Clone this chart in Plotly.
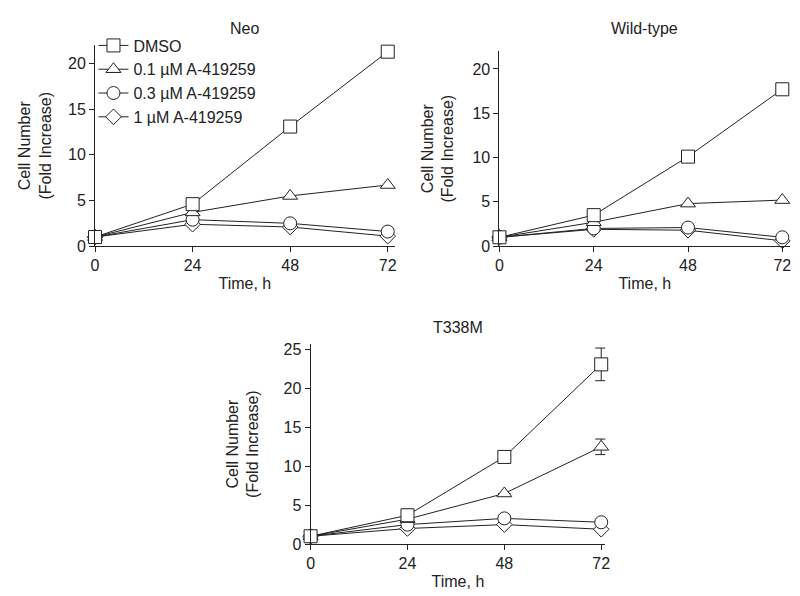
import plotly.graph_objects as go

hours = [0, 24, 48, 72]
series_names = ["DMSO", "0.1 µM A-419259", "0.3 µM A-419259", "1 µM A-419259"]
symbols = ["square", "triangle-up", "circle", "diamond"]

neo_dmso = [1.0, 4.6, 13.1, 21.3]
neo_01 = [1.0, 3.7, 5.5, 6.7]
neo_03 = [1.0, 2.9, 2.5, 1.6]
neo_1 = [1.0, 2.4, 2.1, 1.1]

wt_dmso = [1.0, 3.5, 10.1, 17.7]
wt_01 = [1.0, 2.7, 4.8, 5.2]
wt_03 = [1.0, 2.0, 2.1, 1.0]
wt_1 = [1.0, 1.9, 1.8, 0.6]

t338m_dmso = [1.0, 3.7, 11.2, 23.1]
t338m_01 = [1.0, 3.2, 6.5, 12.5]
t338m_03 = [1.0, 2.5, 3.3, 2.8]
t338m_1 = [1.0, 2.0, 2.5, 1.9]
t338m_dmso_err = [0, 0, 0, 2.1]
t338m_01_err = [0, 0, 0, 1.0]

panel_titles = ["Neo", "Wild-type", "T338M"]
x_title = "Time, h"
y_title = "Cell Number<br>(Fold Increase)"

W, H = 800, 596
INK = "#222222"
FONT = dict(family="Liberation Sans, Arial, sans-serif", size=16, color=INK)

fig = go.Figure()

panels = [
    dict(data=[neo_dmso, neo_01, neo_03, neo_1], errs=[None] * 4,
         xd=(84, 387), yd=(35, 240), xr=73.7, yr=22.0, ax="", legend=True,
         title_y=18, standoff=12),
    dict(data=[wt_dmso, wt_01, wt_03, wt_1], errs=[None] * 4,
         xd=(493, 787), yd=(41, 240), xr=74.0, yr=22.0, ax="2", legend=False,
         title_y=18, standoff=14),
    dict(data=[t338m_dmso, t338m_01, t338m_03, t338m_1],
         errs=[t338m_dmso_err, t338m_01_err, None, None],
         xd=(302, 600), yd=(340, 544), xr=73.0, yr=25.7, ax="3", legend=False,
         title_y=323, standoff=20),
]

sizes = [13, 13, 13, 12]

for p_i, p in enumerate(panels):
    # draw in reverse so DMSO sits on top
    for s_i in reversed(range(4)):
        err = p["errs"][s_i]
        fig.add_trace(go.Scatter(
            x=hours, y=p["data"][s_i], name=series_names[s_i],
            mode="lines+markers",
            xaxis="x" + p["ax"], yaxis="y" + p["ax"],
            line=dict(color=INK, width=1),
            marker=dict(symbol=symbols[s_i], size=sizes[s_i],
                        color="white", line=dict(color=INK, width=1)),
            error_y=dict(type="data", array=err, visible=err is not None,
                         color=INK, thickness=1, width=6),
            cliponaxis=False,
            showlegend=p["legend"],
            legendrank=s_i + 1,
        ))
    xd = [p["xd"][0] / W, p["xd"][1] / W]
    yd = [1 - p["yd"][1] / H, 1 - p["yd"][0] / H]
    axis_common = dict(showline=True, linecolor=INK, linewidth=1, ticks="outside",
                       ticklen=5, tickcolor=INK, tickwidth=1, showgrid=False,
                       zeroline=False, tickfont=FONT)
    fig.layout["xaxis" + p["ax"]] = dict(
        domain=xd, range=[0, p["xr"]], tickvals=hours,
        anchor="y" + p["ax"], title=dict(text=x_title, font=FONT, standoff=4),
        **axis_common)
    fig.layout["yaxis" + p["ax"]] = dict(
        domain=yd, range=[0, p["yr"]], dtick=5,
        anchor="x" + p["ax"], title=dict(text=y_title, font=FONT, standoff=p["standoff"]),
        **axis_common)
    fig.add_annotation(text=panel_titles[p_i], xref="paper", yref="paper",
                       x=(xd[0] + xd[1]) / 2, y=1 - p["title_y"] / H,
                       xanchor="center", yanchor="middle", showarrow=False, font=FONT)

fig.update_layout(
    width=W, height=H,
    margin=dict(l=0, r=0, t=0, b=0),
    paper_bgcolor="white", plot_bgcolor="white",
    font=FONT,
    legend=dict(x=0.103, y=0.97, xanchor="left", yanchor="top",
                bgcolor="rgba(0,0,0,0)", font=FONT, tracegroupgap=0,
                itemwidth=30),
)

fig.write_html("out.html")
